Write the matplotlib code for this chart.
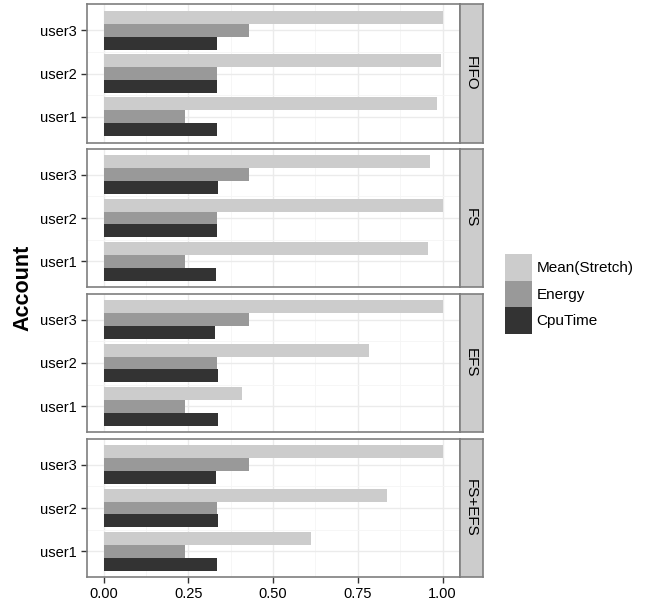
import matplotlib
matplotlib.use('Agg')
import matplotlib.pyplot as plt
import numpy as np

plt.rcParams['font.family'] = ['Liberation Sans', 'DejaVu Sans']

panels = ['FIFO', 'FS', 'EFS', 'FS+EFS']
users = ['user1', 'user2', 'user3']
series = ['Mean(Stretch)', 'Energy', 'CpuTime']
colors = ['#CCCCCC', '#999999', '#333333']

# values per panel, ordered user1, user2, user3
mean_stretch = [
    [0.985, 0.994, 1.000],
    [0.957, 1.000, 0.963],
    [0.409, 0.783, 1.000],
    [0.612, 0.836, 1.000],
]
energy = [
    [0.241, 0.335, 0.429],
    [0.241, 0.335, 0.429],
    [0.241, 0.335, 0.429],
    [0.241, 0.335, 0.429],
]
cputime = [
    [0.335, 0.335, 0.335],
    [0.332, 0.335, 0.338],
    [0.338, 0.338, 0.329],
    [0.335, 0.338, 0.332],
]

W, H = 654, 607
fig = plt.figure(figsize=(W / 100, H / 100), dpi=100)

def px(x0, y0, x1, y1):
    return [x0 / W, 1 - y1 / H, (x1 - x0) / W, (y1 - y0) / H]

panel_rows = [(4, 143), (149, 287), (294, 432), (439, 577)]
left, right, strip_r = 86.7, 459.5, 482.5
grey50 = '#7F7F7F'
offsets = [0.3, 0.0, -0.3]
ypos = np.arange(1, len(users) + 1)

for i, name in enumerate(panels):
    top, bot = panel_rows[i]
    ax = fig.add_axes(px(left, top, right, bot))
    vals = [mean_stretch[i], energy[i], cputime[i]]
    for s in range(3):
        ax.barh(ypos + offsets[s], vals[s], height=0.3, color=colors[s],
                label=series[s], zorder=3)
    ax.set_xlim(-0.05, 1.05)
    ax.set_ylim(0.4, 3.6)
    ax.set_yticks(ypos)
    ax.set_yticklabels(users)
    ax.set_xticks([0, 0.25, 0.5, 0.75, 1.0])
    ax.set_xticks([0.125, 0.375, 0.625, 0.875], minor=True)
    ax.set_yticks([1.5, 2.5], minor=True)
    ax.grid(True, which='major', color='#EBEBEB', lw=1.0, zorder=0)
    ax.grid(True, which='minor', color='#F5F5F5', lw=0.6, zorder=0)
    ax.tick_params(which='minor', length=0)
    ax.tick_params(axis='y', length=4, width=1, color='#333333',
                   labelsize=10.5, pad=3)
    if i == 3:
        ax.set_xticklabels(['0.00', '0.25', '0.50', '0.75', '1.00'])
        ax.tick_params(axis='x', length=4, width=1, color='#333333',
                       labelsize=10.5, pad=3)
    else:
        ax.tick_params(axis='x', length=0, labelbottom=False)
    for sp in ax.spines.values():
        sp.set_color(grey50)
        sp.set_linewidth(1.2)
    if i == 0:
        handles, labels = ax.get_legend_handles_labels()

    sax = fig.add_axes(px(right, top, strip_r, bot))
    sax.set_facecolor('#CCCCCC')
    sax.set_xticks([])
    sax.set_yticks([])
    for sp in sax.spines.values():
        sp.set_color(grey50)
        sp.set_linewidth(1.2)
    sax.text(0.5, 0.5, name, rotation=270, ha='center', va='center',
             fontsize=11, transform=sax.transAxes)

fig.text(23 / W, 1 - 288 / H, 'Account', rotation=90, ha='center',
         va='center', fontsize=15.5, fontweight='bold')

fig.legend(handles, labels, loc='center left', bbox_to_anchor=(497 / W, 1 - 294 / H),
           frameon=False, fontsize=11, handlelength=1.8, handleheight=2.3,
           handletextpad=0.3, labelspacing=0.0, borderpad=0)

fig.savefig('out.png', dpi=100)
